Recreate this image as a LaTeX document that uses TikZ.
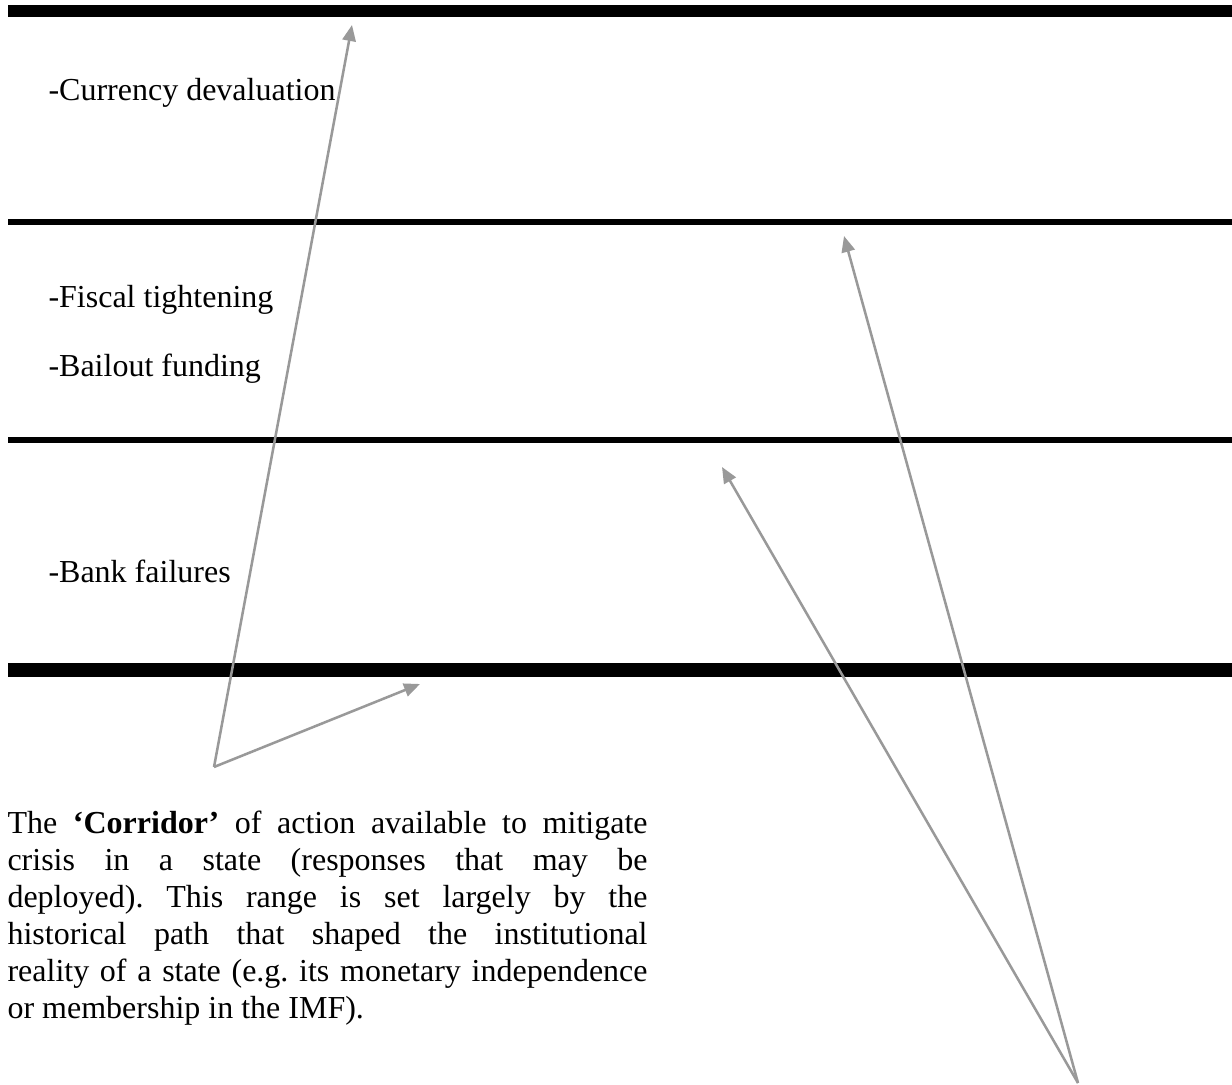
\documentclass[tikz,border=0pt]{standalone}
\usepackage{fontspec}
\setmainfont{Liberation Serif}
\usetikzlibrary{arrows.meta}
\frenchspacing
\begin{document}
\begin{tikzpicture}[x=0.375pt,y=-0.375pt,
  band/.style={line width=#1},
  label/.style={anchor=base west,inner sep=0pt,font=\fontsize{12}{13.9}\selectfont},
  pointer/.style={draw=black!40,line width=0.95pt,-{Triangle[length=6pt,width=5pt]}}]

       \useasboundingbox (0,0) rectangle (1232,1085);

       \draw[band=4.5pt] (8,11) -- (1232,11);
       \draw[band=2.25pt] (8,222) -- (1232,222);
       \draw[band=2.25pt] (8,440) -- (1232,440);
       \draw[band=4.9pt] (8,670) -- (1232,670);

       \node[label] (devalue) at (48,101) {-Currency devaluation};
       \node[label] (fiscal) at (48,308) {-Fiscal tightening};
       \node[label] (bailout) at (48,377) {-Bailout funding};
       \node[label] (bank) at (48,583) {-Bank failures};

       \node[label,anchor=north west,text width=240pt,align=justify] (corridor) at (7,810)
         {The \textbf{‘Corridor’} of action available to mitigate\linebreak
          crisis in a state (responses that may be\linebreak
          deployed). This range is set largely by the\linebreak
          historical path that shaped the institutional\linebreak
          reality of a state (e.g. its monetary independence\linebreak
          or membership in the IMF).};

       \coordinate (corner) at (214,767);
       \coordinate (top) at (352,25);
       \coordinate (floor) at (420,684);
       \coordinate (foot) at (1078,1083);
       \coordinate (upper) at (844,236);
       \coordinate (lower) at (722,467);

       \draw[pointer] (corner) -- (top);
       \draw[pointer] (corner) -- (floor);
       \draw[pointer] (foot) -- (upper);
       \draw[pointer] (foot) -- (lower);
     \end{tikzpicture}
\end{document}
